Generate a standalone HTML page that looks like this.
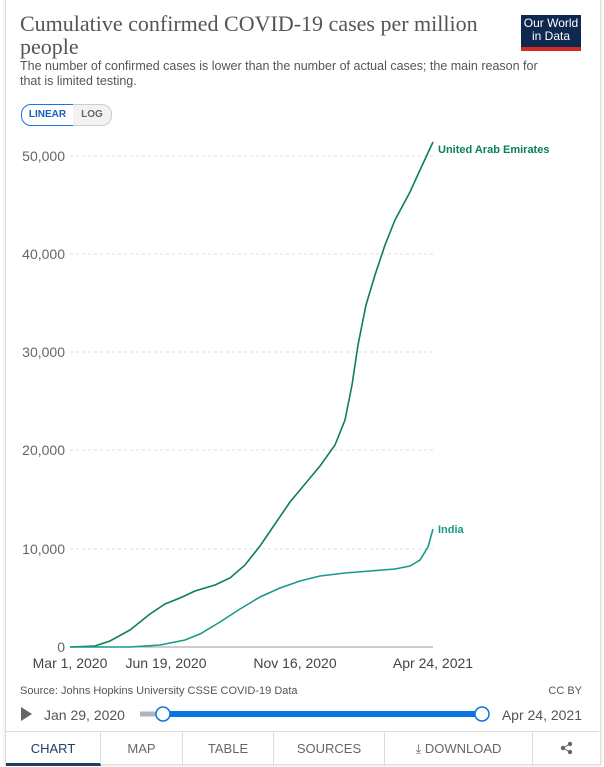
<!DOCTYPE html>
<html><head><style>
body{margin:0;background:#fff;font-family:"Liberation Sans",sans-serif;}
.frame{position:absolute;left:5px;top:0;width:594px;height:764px;border:1px solid #ddd;border-top:none;box-shadow:0 0 3px rgba(0,0,0,.15);background:#fff;}
.t{position:absolute;left:20px;top:12px;font-family:"Liberation Serif",serif;font-size:22px;line-height:23px;color:#555;width:470px;}
.s{position:absolute;left:20px;top:59px;font-size:12.5px;line-height:15px;color:#555;width:540px;}
.logo{position:absolute;left:521px;top:15px;width:60px;background:#0f2850;color:#fff;font-size:12px;line-height:13px;text-align:center;padding-top:2px;box-sizing:border-box;border-bottom:4px solid #d42b21;height:36px;}
.tog{position:absolute;top:104px;height:20px;border:1px solid #ccc;font-size:10px;font-weight:bold;line-height:20px;text-align:center;}
.tabs{position:absolute;left:6px;top:731px;width:593px;height:34px;border-top:1px solid #ddd;display:flex;font-size:13px;color:#666;}
.tabs div{border-right:1px solid #ddd;text-align:center;line-height:34px;box-sizing:border-box;}
</style></head><body>
<div class="frame"></div>
<div class="t">Cumulative confirmed COVID-19 cases per million people</div>
<div class="s">The number of confirmed cases is lower than the number of actual cases; the main reason for that is limited testing.</div>
<div class="logo">Our World<br>in Data</div>
<div class="tog" style="left:21px;width:51px;border-color:#1a73e8;color:#1a5fb4;border-radius:10px 0 0 10px;">LINEAR</div>
<div class="tog" style="left:73px;width:38px;border-left:none;color:#666;background:#f2f2f2;border-radius:0 10px 10px 0;">LOG</div>
<svg width="604" height="767" style="position:absolute;left:0;top:0" font-family="Liberation Sans" >
<g stroke="#ddd" stroke-dasharray="3,3">
<line x1="70" x2="433" y1="156" y2="156"/><line x1="70" x2="433" y1="254" y2="254"/><line x1="70" x2="433" y1="352" y2="352"/><line x1="70" x2="433" y1="450" y2="450"/><line x1="70" x2="433" y1="549" y2="549"/>
</g>
<line x1="70" x2="433" y1="647" y2="647" stroke="#999"/>
<g fill="#666" font-size="14" text-anchor="end">
<text x="65" y="161">50,000</text><text x="65" y="259">40,000</text><text x="65" y="357">30,000</text><text x="65" y="455">20,000</text><text x="65" y="554">10,000</text><text x="65" y="652">0</text>
</g>
<g fill="#444" font-size="14" text-anchor="middle">
<text x="70" y="668">Mar 1, 2020</text><text x="166" y="668">Jun 19, 2020</text><text x="295" y="668">Nov 16, 2020</text><text x="433" y="668">Apr 24, 2021</text>
</g>
<path d="M70,647 L95,646 L110,641 L130,630 L150,614 L165,604 L180,598 L195,591 L215,585 L230,578 L245,565 L260,546 L275,524 L290,502 L305,484 L320,466 L335,445 L345,420 L352,385 L358,345 L366,305 L375,275 L385,245 L395,220 L410,192 L420,170 L433,142" fill="none" stroke="#0d8050" stroke-width="1.6"/>
<path d="M70,647 L130,647 L160,645 L185,640 L200,634 L220,622 L240,609 L260,597 L280,588 L300,581 L320,576 L345,573 L370,571 L395,569 L410,566 L420,560 L428,547 L433,529" fill="none" stroke="#179a8a" stroke-width="1.6"/>
<text x="438" y="153" font-size="11" font-weight="bold" fill="#0d8050">United Arab Emirates</text>
<text x="438" y="533" font-size="11" font-weight="bold" fill="#179a8a">India</text>
<text x="20" y="694" font-size="11" fill="#555">Source: Johns Hopkins University CSSE COVID-19 Data</text>
<text x="582" y="694" font-size="11" fill="#555" text-anchor="end">CC BY</text>
<path d="M21,707 L32,714 L21,721Z" fill="#666"/>
<text x="44" y="720" font-size="14" fill="#555">Jan 29, 2020</text>
<line x1="140" x2="163" y1="714" y2="714" stroke="#b0b5bd" stroke-width="5"/>
<line x1="163" x2="482" y1="714" y2="714" stroke="#0a74e0" stroke-width="6"/>
<circle cx="163" cy="714" r="7" fill="#fff" stroke="#0a74e0" stroke-width="1.5"/>
<circle cx="482" cy="714" r="7" fill="#fff" stroke="#0a74e0" stroke-width="1.5"/>
<text x="582" y="720" font-size="14" fill="#555" text-anchor="end">Apr 24, 2021</text>
<g fill="#666"><circle cx="570" cy="744" r="2.2"/><circle cx="563" cy="748" r="2.2"/><circle cx="570" cy="752" r="2.2"/></g>
<path d="M570,744 L563,748 L570,752" stroke="#666" fill="none"/>
</svg>
<div class="tabs">
<div style="width:95px;color:#1d3d63;border-bottom:3px solid #1d3d63;height:34px">CHART</div>
<div style="width:82px">MAP</div><div style="width:91px">TABLE</div><div style="width:111px">SOURCES</div><div style="width:148px">⤓ DOWNLOAD</div><div style="width:66px;border:none"></div>
</div>
</body></html>
